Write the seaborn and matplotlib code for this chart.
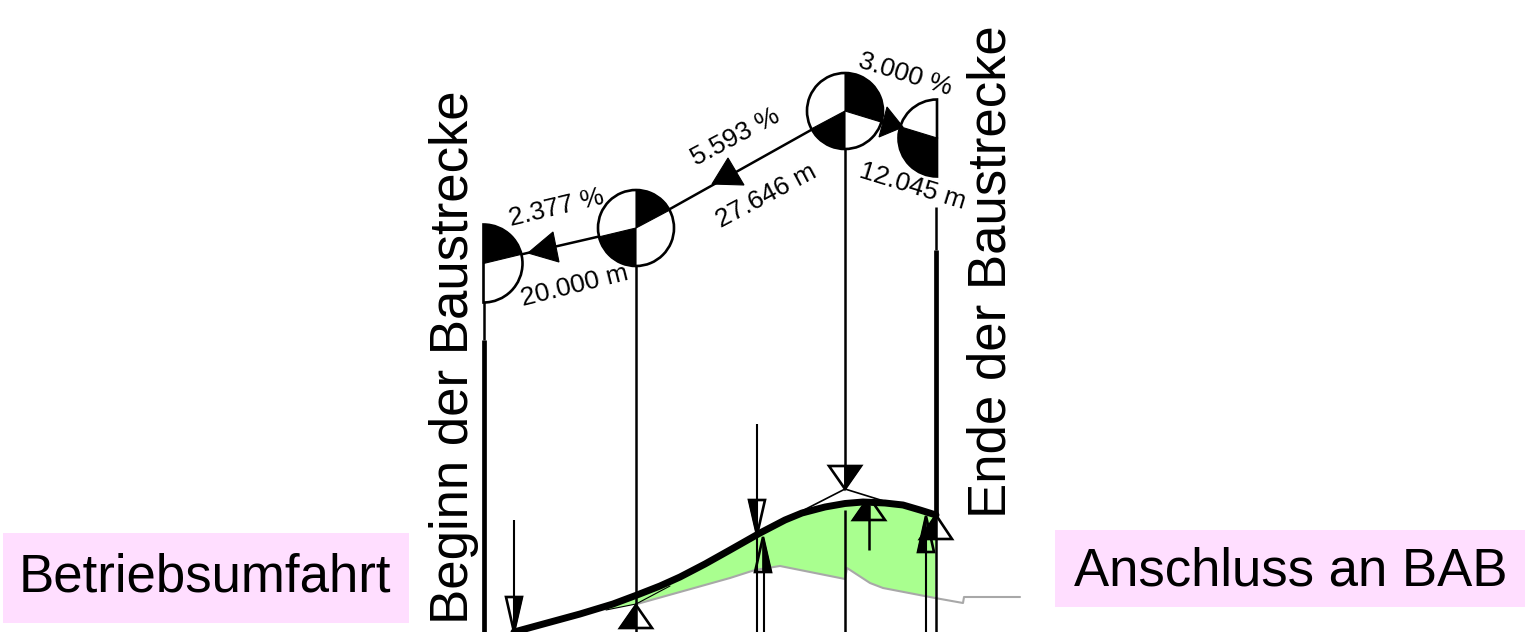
import numpy as np
import pandas as pd
import matplotlib
matplotlib.use("Agg")
import matplotlib.pyplot as plt
from matplotlib.patches import Wedge, Polygon, Rectangle
import seaborn as sns

# everything in pixel units (y goes down)
road_x = [514, 547, 580, 613, 637, 660, 680, 705, 730, 760, 785, 802, 825, 845, 863, 885, 903, 920, 936]
road_y = [632, 623, 614, 604, 595, 586, 577, 564, 550, 533, 520, 513, 507, 503.5, 502, 503, 505, 510, 515]

ground_x = [637, 730, 755, 780, 845, 847, 870, 883, 935, 963, 964, 1020]
ground_y = [604, 578, 570, 566, 579, 568, 583, 588, 598, 603, 597, 597]

tangent_low_x = [606, 636, 670]
tangent_low_y = [610, 604, 586]
tangent_high_x = [802, 845, 887]
tangent_high_y = [511, 489, 502]

# grade line through the vertices
grade_x = [484, 636, 845, 937]
grade_y = [263, 228, 111, 138]

# verticals: x, top, bottom, line width
vert_x = [484, 484, 636, 845, 845, 936, 936, 936, 757, 763.5, 926, 869, 514]
vert_top = [302, 340, 266, 148, 510, 207, 250, 515, 424, 555, 530, 505, 520]
vert_bottom = [340, 632, 632, 489, 632, 250, 515, 632, 632, 632, 632, 550, 632]
vert_lw = [1.8, 3.4, 1.8, 1.8, 1.8, 1.8, 3.4, 1.8, 1.5, 1.5, 1.5, 1.8, 1.5]

# elevation triangles: apex, base level, half width, black side
tri_x = [514, 636, 757, 763, 845, 869, 926, 936]
tri_apex = [632, 605, 535, 537, 489, 497, 516, 515]
tri_base = [597, 628, 500, 572, 466, 520, 552, 539]
tri_half = [8, 16, 8, 8, 16, 16, 8, 16]
tri_side = [1, -1, -1, 1, 1, -1, -1, -1]

# grade arrows
arrow_x = [[528, 553, 559], [712, 728, 744], [887, 879, 903]]
arrow_y = [[253, 232, 262], [184, 158, 185], [107, 137, 127]]

# tangent circles: centre, radius, outline range, black sectors (screen degrees)
circle_x = [483.5, 636, 845, 937]
circle_y = [263.5, 228, 111, 138]
circle_r = [39, 38, 38, 38.5]
circle_range = [(-90, 90), (0, 360), (0, 360), (90, 270)]
circle_black = [[(13.6, 90)], [(28, 90), (193.5, 270)], [(-17, 90), (208, 270)], [(163, 270)]]

label_text = ["2.377 %", "20.000 m", "5.593 %", "27.646 m", "3.000 %", "12.045 m"]
label_x = [557, 575, 735, 766, 905, 913]
label_y = [208, 286, 137, 196, 74, 186]
label_rot = [13.5, 14, 28, 28, -17, -17]

PINK = "#ffdeff"
GREEN = "#a9ff8f"
GRAY = "#a8a8a8"

sns.set_theme(style="white")
plt.rcParams["font.family"] = ["Liberation Sans", "DejaVu Sans"]

fig = plt.figure(figsize=(15.34, 6.32), dpi=100)
ax = fig.add_axes([0, 0, 1, 1])
ax.set_xlim(0, 1534)
ax.set_ylim(632, 0)
ax.axis("off")

# pink boxes
ax.add_patch(Rectangle((3, 533), 406, 90, fc=PINK, ec="none", zorder=1))
ax.add_patch(Rectangle((1055, 530), 470, 77, fc=PINK, ec="none", zorder=1))
ax.text(205, 577, "Betriebsumfahrt", fontsize=38, ha="center", va="center", color="black", zorder=6)
ax.text(1291, 572, "Anschluss an BAB", fontsize=38, ha="center", va="center", color="black", zorder=6)

# cut area between road and ground
keep = [i for i, x in enumerate(road_x) if x >= 613]
fill_x = [606] + [road_x[i] for i in keep] + ground_x[:9][::-1] + [606]
fill_y = [606] + [road_y[i] for i in keep] + ground_y[:9][::-1] + [610]
ax.fill(fill_x, fill_y, color=GREEN, lw=0, zorder=2)

ground = pd.DataFrame({"x": ground_x, "y": ground_y})
road = pd.DataFrame({"x": road_x, "y": road_y})
sns.lineplot(data=ground, x="x", y="y", estimator=None, sort=False, color=GRAY, lw=1.5, ax=ax, zorder=3)
sns.lineplot(x=tangent_low_x, y=tangent_low_y, estimator=None, sort=False, color="black", lw=0.8, ax=ax, zorder=3)
sns.lineplot(x=tangent_high_x, y=tangent_high_y, estimator=None, sort=False, color="black", lw=1.2, ax=ax, zorder=3)

for x, top, bottom, lw in zip(vert_x, vert_top, vert_bottom, vert_lw):
    ax.plot([x, x], [top, bottom], color="black", lw=lw, solid_capstyle="butt", zorder=4)

for x, apex, base, half, side in zip(tri_x, tri_apex, tri_base, tri_half, tri_side):
    outline = Polygon([(x, apex), (x - half, base), (x + half, base)], closed=True, fc="none", ec="black", lw=1.9, zorder=4)
    black = Polygon([(x, apex), (x, base), (x + side * half, base)], closed=True, fc="black", ec="black", lw=1.2, zorder=4)
    ax.add_patch(outline)
    ax.add_patch(black)
    if x == 869:
        # this one is cut off by the road surface
        clip = Rectangle((840, 503), 60, 30, transform=ax.transData)
        outline.set_clip_path(clip)
        black.set_clip_path(clip)

# road on top
sns.lineplot(data=road, x="x", y="y", estimator=None, sort=False, color="black", lw=5, ax=ax, zorder=5)

# grade line and circles
sns.lineplot(x=grade_x, y=grade_y, estimator=None, sort=False, color="black", lw=1.8, ax=ax, zorder=6)
for x, y, r, rng, black in zip(circle_x, circle_y, circle_r, circle_range, circle_black):
    # screen angles run counter clockwise, y axis is inverted
    ax.add_patch(Wedge((x, y), r, -rng[1], -rng[0], fc="white", ec="none", zorder=7))
    for a, b in black:
        ax.add_patch(Wedge((x, y), r, -b, -a, fc="black", ec="black", lw=0.8, zorder=8))
    ax.add_patch(Wedge((x, y), r, -rng[1], -rng[0], fc="none", ec="black", lw=1.9, zorder=9))

for xs, ys in zip(arrow_x, arrow_y):
    ax.add_patch(Polygon(list(zip(xs, ys)), closed=True, fc="black", ec="black", lw=0.8, zorder=8))

for txt, x, y, rot in zip(label_text, label_x, label_y, label_rot):
    ax.text(x, y, txt, fontsize=19, rotation=rot, rotation_mode="anchor", ha="center", va="center", color="black", zorder=10)

ax.text(454, 357, "Beginn der Baustrecke", fontsize=38, rotation=90, ha="center", va="center", color="black", zorder=6)
ax.text(992, 272, "Ende der Baustrecke", fontsize=38, rotation=90, ha="center", va="center", color="black", zorder=6)

fig.savefig("out.png", dpi=100, facecolor="white")
